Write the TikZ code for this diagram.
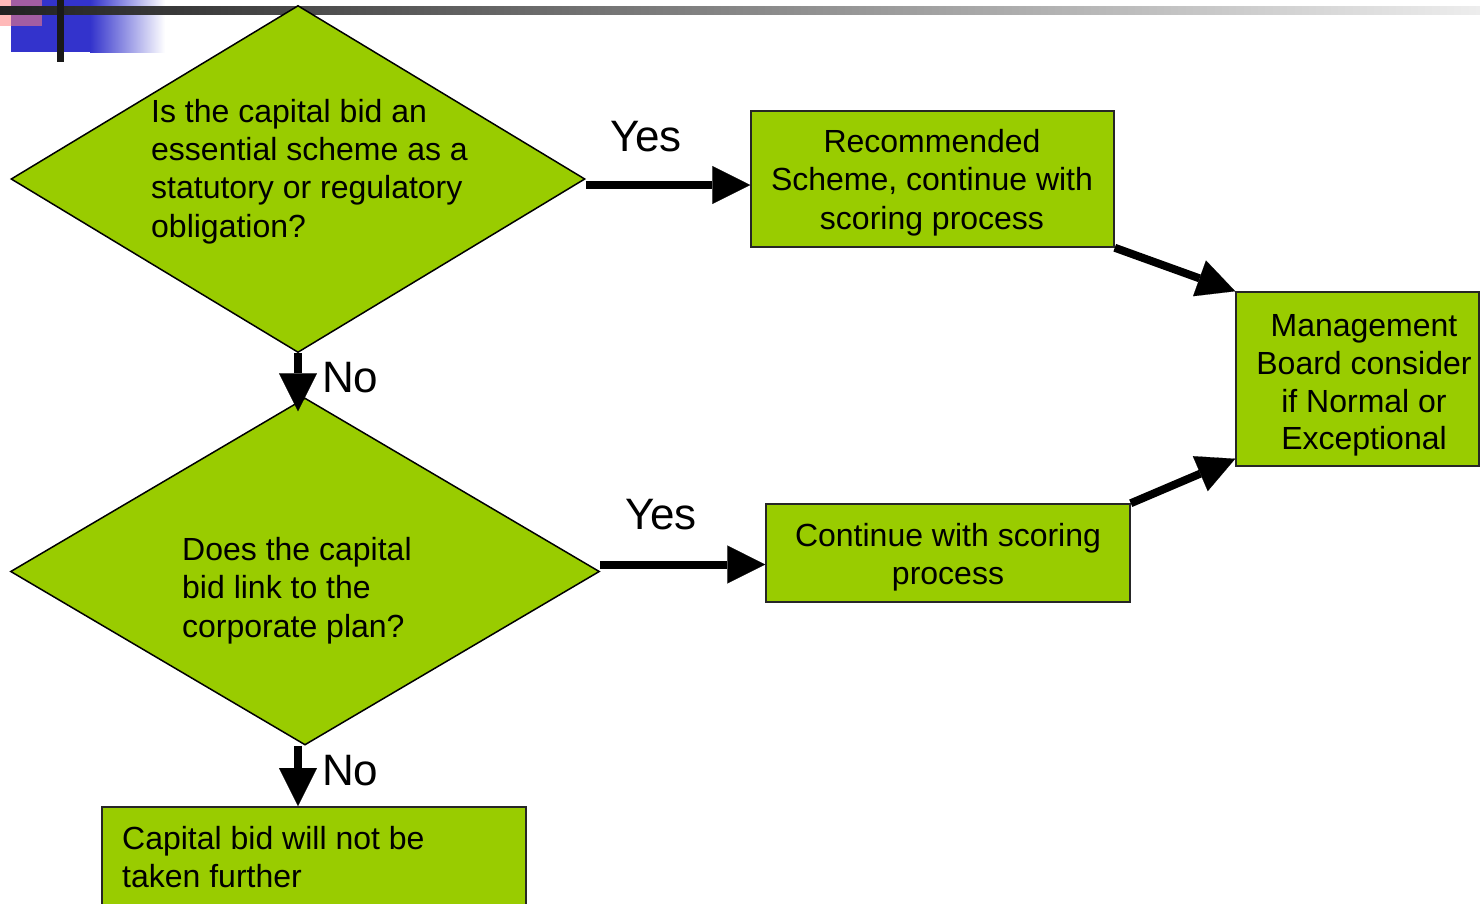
\documentclass[tikz,border=0pt]{standalone}
\usepackage{fontspec}
\setmainfont{Liberation Sans}
\usepackage{xcolor}
\usetikzlibrary{arrows.meta,calc,positioning,shapes.geometric}

\definecolor{leaf}{HTML}{99CC00}
\definecolor{slideblue}{HTML}{3333CC}

\tikzset{
  decision/.style={diamond,draw=black,line width=1.5pt,fill=leaf,inner sep=0pt,aspect=1.65},
  stepbox/.style={rectangle,draw=black!85,line width=1.5pt,fill=leaf,inner sep=0pt},
  boxtext/.style={align=center,inner sep=0pt,font=\fontsize{32}{38.4}\selectfont},
  qtext/.style={anchor=west,align=left,inner sep=0pt,font=\fontsize{32}{38.4}\selectfont},
  answer/.style={inner sep=0pt,font=\fontsize{44}{44}\selectfont},
  flow/.style={line width=8pt,-{Triangle[length=38pt,width=38pt,line width=0.1pt]}}
}

\begin{document}
\begin{tikzpicture}[x=1pt,y=-1pt]
  \useasboundingbox (0,0) rectangle (1480,903);
  \clip (0,0) rectangle (1480,903);
  % slide decoration
  \fill[slideblue] (11,0) rectangle (90,52);
  \shade[left color=slideblue,right color=white] (90,0) rectangle (165,52);
  \fill[red!50!white,opacity=0.55] (0,0) rectangle (42,26);
  \shade[left color=black!87,right color=black!7] (0,6) rectangle (1480,14);
  \fill[black!90] (57,0) rectangle (64,62);

  % questions
  \node[decision,minimum width=574pt,minimum height=347pt] (q1) at (298,179) {};
  \node[qtext] (q1text) at (151,171.5) {Is the capital bid an\\essential scheme as a\\statutory or regulatory\\obligation?};
  \node[decision,minimum width=589pt,minimum height=347pt] (q2) at (305,571.5) {};
  \node[qtext] (q2text) at (182,590.5) {Does the capital\\bid link to the\\corporate plan?};

  % outcomes
  \node[stepbox,minimum width=363pt,minimum height=136pt] (rec) at (932.5,179) {};
  \node[boxtext] (rectext) at (932,182.5) {Recommended\\Scheme, continue with\\scoring process};
  \node[stepbox,minimum width=243pt,minimum height=174pt] (man) at (1357.5,379) {};
  \node[boxtext,font=\fontsize{32}{37.7}\selectfont] (mantext) at (1364,385.5) {Management\\Board consider\\if Normal or\\Exceptional};
  \node[stepbox,minimum width=364pt,minimum height=98pt] (cont) at (948,553) {};
  \node[boxtext] (conttext) at (948,557.5) {Continue with scoring\\process};
  \node[stepbox,minimum width=424pt,minimum height=130pt,anchor=north west] (stop) at (101,806) {};
  \node[qtext] (stoptext) at (122,857) {Capital bid will not be\\taken further};

  % connectors
  \draw[flow] ([yshift=-6pt]q1.east) -- ([yshift=-6pt]q1.east -| rec.west);
  \draw[flow] ([yshift=7pt]q2.east) -- ([yshift=7pt]q2.east -| cont.west);
  \draw[flow] (q1.south) -- ([yshift=-14pt]q2.north -| q1.south);
  \draw[flow] (q2.south -| q1.south) -- (q1.south |- stop.north);
  \draw[flow] (rec.south east) -- (man.north west);
  \draw[flow] (cont.north east) -- ([yshift=8pt]man.south west);

  % answers
  \node[answer] (yes1) at (646,137) {Yes};
  \node[answer] (yes2) at (661,515) {Yes};
  \node[answer,anchor=west] (no1) at (322,378) {No};
  \node[answer,anchor=west] (no2) at (322,771) {No};
\end{tikzpicture}
\end{document}
